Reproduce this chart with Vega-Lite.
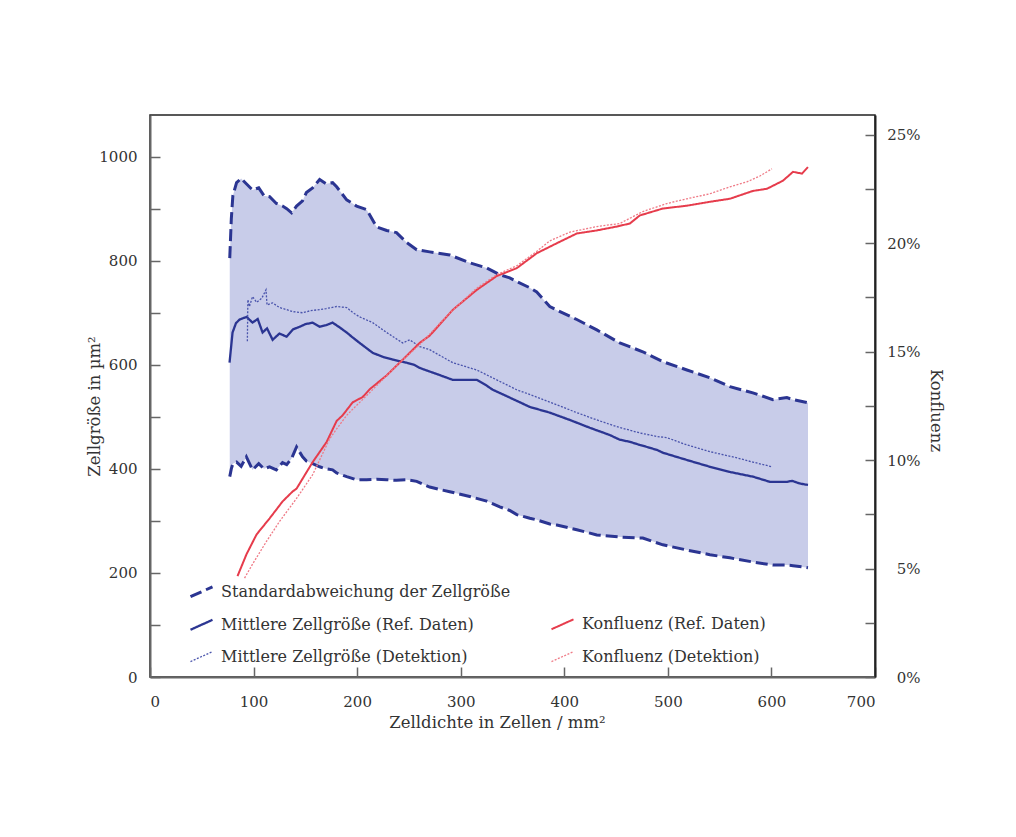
{
  "$schema": "https://vega.github.io/schema/vega-lite/v6.json",
  "width": 725,
  "height": 562,
  "autosize": {"type": "none"},
  "padding": {"left": 150, "top": 115, "right": 141, "bottom": 160},
  "background": "white",
  "datasets": {
    "std": [
      {"s": "sd", "x": 77, "lo": 385, "hi": 805},
      {"s": "sd", "x": 78.5, "lo": 400, "hi": 880},
      {"s": "sd", "x": 80, "lo": 410, "hi": 925},
      {"s": "sd", "x": 83.6, "lo": 413, "hi": 950},
      {"s": "sd", "x": 88, "lo": 405, "hi": 958},
      {"s": "sd", "x": 93, "lo": 423, "hi": 948},
      {"s": "sd", "x": 99, "lo": 398, "hi": 936},
      {"s": "sd", "x": 105, "lo": 410, "hi": 940},
      {"s": "sd", "x": 110, "lo": 400, "hi": 925},
      {"s": "sd", "x": 115.5, "lo": 404, "hi": 923},
      {"s": "sd", "x": 122, "lo": 398, "hi": 910},
      {"s": "sd", "x": 128, "lo": 412, "hi": 905},
      {"s": "sd", "x": 132, "lo": 408, "hi": 900},
      {"s": "sd", "x": 136.7, "lo": 420, "hi": 892},
      {"s": "sd", "x": 141.5, "lo": 442, "hi": 905},
      {"s": "sd", "x": 147.3, "lo": 423, "hi": 915},
      {"s": "sd", "x": 151, "lo": 415, "hi": 931},
      {"s": "sd", "x": 157, "lo": 410, "hi": 940},
      {"s": "sd", "x": 163.8, "lo": 404, "hi": 956},
      {"s": "sd", "x": 170, "lo": 400, "hi": 948},
      {"s": "sd", "x": 176.3, "lo": 398, "hi": 950},
      {"s": "sd", "x": 180.2, "lo": 392, "hi": 942},
      {"s": "sd", "x": 189.9, "lo": 385, "hi": 917},
      {"s": "sd", "x": 199.5, "lo": 379, "hi": 905},
      {"s": "sd", "x": 209.2, "lo": 379, "hi": 898},
      {"s": "sd", "x": 218.8, "lo": 380, "hi": 865},
      {"s": "sd", "x": 228.5, "lo": 379, "hi": 858},
      {"s": "sd", "x": 238, "lo": 378, "hi": 854},
      {"s": "sd", "x": 247.8, "lo": 379, "hi": 835},
      {"s": "sd", "x": 257.5, "lo": 376, "hi": 821},
      {"s": "sd", "x": 270, "lo": 365, "hi": 817},
      {"s": "sd", "x": 289.4, "lo": 356, "hi": 811},
      {"s": "sd", "x": 308.7, "lo": 347, "hi": 796},
      {"s": "sd", "x": 325.1, "lo": 338, "hi": 786},
      {"s": "sd", "x": 337.7, "lo": 327, "hi": 773},
      {"s": "sd", "x": 347.3, "lo": 320, "hi": 767},
      {"s": "sd", "x": 354.1, "lo": 312, "hi": 760},
      {"s": "sd", "x": 366.7, "lo": 305, "hi": 748},
      {"s": "sd", "x": 373.4, "lo": 302, "hi": 740},
      {"s": "sd", "x": 386, "lo": 294, "hi": 712},
      {"s": "sd", "x": 392.8, "lo": 292, "hi": 705},
      {"s": "sd", "x": 412.1, "lo": 283, "hi": 687},
      {"s": "sd", "x": 431.4, "lo": 273, "hi": 667},
      {"s": "sd", "x": 453.6, "lo": 269, "hi": 642},
      {"s": "sd", "x": 475.8, "lo": 267, "hi": 625},
      {"s": "sd", "x": 495.2, "lo": 254, "hi": 606},
      {"s": "sd", "x": 518.4, "lo": 244, "hi": 590},
      {"s": "sd", "x": 540.6, "lo": 235, "hi": 575},
      {"s": "sd", "x": 559.9, "lo": 229, "hi": 558},
      {"s": "sd", "x": 582.1, "lo": 221, "hi": 546},
      {"s": "sd", "x": 601.4, "lo": 215, "hi": 533},
      {"s": "sd", "x": 614.9, "lo": 215, "hi": 537},
      {"s": "sd", "x": 620.8, "lo": 214, "hi": 533},
      {"s": "sd", "x": 635.3, "lo": 210, "hi": 527}
    ],
    "size": [
      {"s": "mr", "x": 76.8, "v": 604},
      {"s": "mr", "x": 79.7, "v": 662},
      {"s": "mr", "x": 83, "v": 680},
      {"s": "mr", "x": 86.5, "v": 687},
      {"s": "mr", "x": 93.2, "v": 692},
      {"s": "mr", "x": 99, "v": 681},
      {"s": "mr", "x": 104, "v": 688},
      {"s": "mr", "x": 108.7, "v": 662},
      {"s": "mr", "x": 113, "v": 670},
      {"s": "mr", "x": 118.4, "v": 648},
      {"s": "mr", "x": 125, "v": 660},
      {"s": "mr", "x": 131.9, "v": 654},
      {"s": "mr", "x": 138, "v": 668},
      {"s": "mr", "x": 144.4, "v": 673},
      {"s": "mr", "x": 150, "v": 678},
      {"s": "mr", "x": 157, "v": 681},
      {"s": "mr", "x": 163.8, "v": 673},
      {"s": "mr", "x": 170, "v": 676},
      {"s": "mr", "x": 176.3, "v": 681},
      {"s": "mr", "x": 183, "v": 672},
      {"s": "mr", "x": 189.9, "v": 662},
      {"s": "mr", "x": 196, "v": 652},
      {"s": "mr", "x": 202.4, "v": 642},
      {"s": "mr", "x": 209, "v": 632},
      {"s": "mr", "x": 215, "v": 623},
      {"s": "mr", "x": 225, "v": 615},
      {"s": "mr", "x": 234.3, "v": 610},
      {"s": "mr", "x": 247.8, "v": 604},
      {"s": "mr", "x": 255, "v": 600},
      {"s": "mr", "x": 260.4, "v": 594},
      {"s": "mr", "x": 270, "v": 587},
      {"s": "mr", "x": 280, "v": 580},
      {"s": "mr", "x": 292.3, "v": 571},
      {"s": "mr", "x": 315.5, "v": 571},
      {"s": "mr", "x": 325, "v": 560},
      {"s": "mr", "x": 330.9, "v": 552},
      {"s": "mr", "x": 347.3, "v": 537},
      {"s": "mr", "x": 366.7, "v": 519},
      {"s": "mr", "x": 386, "v": 508},
      {"s": "mr", "x": 405.3, "v": 494},
      {"s": "mr", "x": 424.6, "v": 479},
      {"s": "mr", "x": 443.9, "v": 465},
      {"s": "mr", "x": 453.6, "v": 456},
      {"s": "mr", "x": 463.3, "v": 452},
      {"s": "mr", "x": 472.9, "v": 446},
      {"s": "mr", "x": 480, "v": 442},
      {"s": "mr", "x": 490, "v": 436},
      {"s": "mr", "x": 495.2, "v": 431},
      {"s": "mr", "x": 518.4, "v": 417},
      {"s": "mr", "x": 540.6, "v": 404},
      {"s": "mr", "x": 559.9, "v": 394},
      {"s": "mr", "x": 582.1, "v": 385},
      {"s": "mr", "x": 598.6, "v": 375},
      {"s": "mr", "x": 614.9, "v": 375},
      {"s": "mr", "x": 620, "v": 377},
      {"s": "mr", "x": 627, "v": 372},
      {"s": "mr", "x": 635.3, "v": 369},
      {"s": "md", "x": 94, "v": 645},
      {"s": "md", "x": 94.5, "v": 725},
      {"s": "md", "x": 96, "v": 712},
      {"s": "md", "x": 99, "v": 731},
      {"s": "md", "x": 103, "v": 720},
      {"s": "md", "x": 108, "v": 728},
      {"s": "md", "x": 112, "v": 744},
      {"s": "md", "x": 113, "v": 715},
      {"s": "md", "x": 118.4, "v": 719},
      {"s": "md", "x": 125, "v": 710},
      {"s": "md", "x": 131.9, "v": 706},
      {"s": "md", "x": 138, "v": 702},
      {"s": "md", "x": 147.3, "v": 700},
      {"s": "md", "x": 155, "v": 704},
      {"s": "md", "x": 163.8, "v": 706},
      {"s": "md", "x": 170, "v": 708},
      {"s": "md", "x": 180.2, "v": 712},
      {"s": "md", "x": 189.9, "v": 710},
      {"s": "md", "x": 196, "v": 700},
      {"s": "md", "x": 202.4, "v": 692},
      {"s": "md", "x": 215, "v": 681},
      {"s": "md", "x": 228.5, "v": 662},
      {"s": "md", "x": 244, "v": 642},
      {"s": "md", "x": 250.7, "v": 648},
      {"s": "md", "x": 260.4, "v": 635},
      {"s": "md", "x": 270, "v": 629},
      {"s": "md", "x": 292.3, "v": 604},
      {"s": "md", "x": 315.5, "v": 590},
      {"s": "md", "x": 334.8, "v": 571},
      {"s": "md", "x": 354.1, "v": 552},
      {"s": "md", "x": 373.4, "v": 538},
      {"s": "md", "x": 392.8, "v": 523},
      {"s": "md", "x": 412.1, "v": 508},
      {"s": "md", "x": 431.4, "v": 494},
      {"s": "md", "x": 450.7, "v": 481},
      {"s": "md", "x": 472.9, "v": 469},
      {"s": "md", "x": 490, "v": 462},
      {"s": "md", "x": 499, "v": 460},
      {"s": "md", "x": 518.4, "v": 446},
      {"s": "md", "x": 540.6, "v": 433},
      {"s": "md", "x": 562.8, "v": 423},
      {"s": "md", "x": 582.1, "v": 413},
      {"s": "md", "x": 600.5, "v": 404}
    ],
    "konf": [
      {"s": "kr", "x": 84.5, "v": 0.0465},
      {"s": "kr", "x": 93.2, "v": 0.0566},
      {"s": "kr", "x": 102.9, "v": 0.0657},
      {"s": "kr", "x": 115.5, "v": 0.0731},
      {"s": "kr", "x": 128, "v": 0.0809},
      {"s": "kr", "x": 137.7, "v": 0.0855},
      {"s": "kr", "x": 141.5, "v": 0.0868},
      {"s": "kr", "x": 157, "v": 0.099},
      {"s": "kr", "x": 170.5, "v": 0.1083},
      {"s": "kr", "x": 180.2, "v": 0.118},
      {"s": "kr", "x": 186, "v": 0.1206},
      {"s": "kr", "x": 195.7, "v": 0.1266},
      {"s": "kr", "x": 205.3, "v": 0.129},
      {"s": "kr", "x": 212.1, "v": 0.1326},
      {"s": "kr", "x": 228.5, "v": 0.139},
      {"s": "kr", "x": 247.8, "v": 0.148},
      {"s": "kr", "x": 260.4, "v": 0.154},
      {"s": "kr", "x": 270, "v": 0.1573},
      {"s": "kr", "x": 292.3, "v": 0.1692},
      {"s": "kr", "x": 315.5, "v": 0.1784},
      {"s": "kr", "x": 334.8, "v": 0.1848},
      {"s": "kr", "x": 354.1, "v": 0.1884},
      {"s": "kr", "x": 373.4, "v": 0.1953},
      {"s": "kr", "x": 392.8, "v": 0.1999},
      {"s": "kr", "x": 412.1, "v": 0.2044},
      {"s": "kr", "x": 431.4, "v": 0.2058},
      {"s": "kr", "x": 450.7, "v": 0.2076},
      {"s": "kr", "x": 463.3, "v": 0.209},
      {"s": "kr", "x": 472.9, "v": 0.2127},
      {"s": "kr", "x": 495.2, "v": 0.2159},
      {"s": "kr", "x": 518.4, "v": 0.2172},
      {"s": "kr", "x": 540.6, "v": 0.219},
      {"s": "kr", "x": 559.9, "v": 0.2204},
      {"s": "kr", "x": 582.1, "v": 0.224},
      {"s": "kr", "x": 595.7, "v": 0.225},
      {"s": "kr", "x": 611.1, "v": 0.2287},
      {"s": "kr", "x": 620.8, "v": 0.2328},
      {"s": "kr", "x": 629.5, "v": 0.232},
      {"s": "kr", "x": 635.3, "v": 0.235},
      {"s": "kd", "x": 91.3, "v": 0.0456},
      {"s": "kd", "x": 99, "v": 0.052},
      {"s": "kd", "x": 112.6, "v": 0.0626},
      {"s": "kd", "x": 125.1, "v": 0.0717},
      {"s": "kd", "x": 141.5, "v": 0.0823},
      {"s": "kd", "x": 157, "v": 0.0932},
      {"s": "kd", "x": 173.4, "v": 0.1097},
      {"s": "kd", "x": 180.2, "v": 0.1143},
      {"s": "kd", "x": 189.9, "v": 0.1206},
      {"s": "kd", "x": 195.7, "v": 0.1234},
      {"s": "kd", "x": 212, "v": 0.131},
      {"s": "kd", "x": 241.1, "v": 0.1449},
      {"s": "kd", "x": 260, "v": 0.153},
      {"s": "kd", "x": 290, "v": 0.168},
      {"s": "kd", "x": 315, "v": 0.179},
      {"s": "kd", "x": 335, "v": 0.1855},
      {"s": "kd", "x": 354, "v": 0.1895},
      {"s": "kd", "x": 373, "v": 0.196},
      {"s": "kd", "x": 386, "v": 0.201},
      {"s": "kd", "x": 405.3, "v": 0.205},
      {"s": "kd", "x": 431.4, "v": 0.2076},
      {"s": "kd", "x": 453.6, "v": 0.209},
      {"s": "kd", "x": 475.8, "v": 0.2145},
      {"s": "kd", "x": 499, "v": 0.2182},
      {"s": "kd", "x": 518.4, "v": 0.2204},
      {"s": "kd", "x": 540.6, "v": 0.2227},
      {"s": "kd", "x": 559.9, "v": 0.2259},
      {"s": "kd", "x": 576.3, "v": 0.2282},
      {"s": "kd", "x": 588.9, "v": 0.2309},
      {"s": "kd", "x": 600.5, "v": 0.2342}
    ]
  },
  "layer": [
    {
      "layer": [
        {
          "data": {"name": "std"},
          "mark": {"type": "area", "color": "#c8cce9", "opacity": 1},
          "encoding": {
            "x": {"field": "x", "type": "quantitative", "scale": {"domain": [0, 700], "nice": false}, "title": "Zelldichte in Zellen / mm²",
                  "axis": {"values": [0, 100, 200, 300, 400, 500, 600, 700], "labelPadding": 27, "titlePadding": 5, "titleX": 347}},
            "y": {"field": "lo", "type": "quantitative", "scale": {"domain": [0, 1080], "nice": false}, "title": "Zellgröße in µm²",
                  "axis": {"values": [0, 100, 200, 300, 400, 500, 600, 700, 800, 900, 1000], "format": "d",
                           "labelExpr": "datum.value % 200 == 0 ? datum.label : ''", "labelPadding": 23, "titleX": -48, "titleY": 291}},
            "y2": {"field": "hi"}
          }
        },
        {
          "data": {"name": "std"},
          "transform": [{"fold": ["lo", "hi"], "as": ["part", "val"]}],
          "mark": {"type": "line"},
          "encoding": {
            "x": {"field": "x", "type": "quantitative", "title": "Zelldichte in Zellen / mm²"},
            "y": {"field": "val", "type": "quantitative", "title": "Zellgröße in µm²"},
            "detail": {"field": "part"},
            "color": {"field": "s", "type": "nominal",
                      "scale": {"domain": ["sd", "mr", "md", "nn", "kr", "kd"], "range": ["#2b3592", "#2b3592", "#4a54ac", "rgba(0,0,0,0)", "#e63c4c", "#ef7a86"]},
                      "legend": {"orient": "none", "legendX": 39, "legendY": 464, "columns": 2, "title": null, "labelLimit": 400,
                                 "labelExpr": "datum.value == 'sd' ? 'Standardabweichung der Zellgröße' : datum.value == 'mr' ? 'Mittlere Zellgröße (Ref. Daten)' : datum.value == 'md' ? 'Mittlere Zellgröße (Detektion)' : datum.value == 'kr' ? 'Konfluenz (Ref. Daten)' : datum.value == 'kd' ? 'Konfluenz (Detektion)' : ''"}},
            "strokeDash": {"field": "s", "type": "nominal",
                           "scale": {"domain": ["sd", "mr", "md", "nn", "kr", "kd"], "range": [[12, 5], [1, 0], [2, 1.5], [1, 0], [1, 0], [2, 1.5]]}},
            "strokeWidth": {"field": "s", "type": "nominal",
                            "scale": {"type": "ordinal", "domain": ["sd", "mr", "md", "nn", "kr", "kd"], "range": [3, 2.3, 1.3, 0, 2, 1.3]}}
          }
        },
        {
          "data": {"name": "size"},
          "mark": {"type": "line"},
          "encoding": {
            "x": {"field": "x", "type": "quantitative", "title": "Zelldichte in Zellen / mm²"},
            "y": {"field": "v", "type": "quantitative", "title": "Zellgröße in µm²"},
            "color": {"field": "s", "type": "nominal",
                      "scale": {"domain": ["sd", "mr", "md", "nn", "kr", "kd"], "range": ["#2b3592", "#2b3592", "#4a54ac", "rgba(0,0,0,0)", "#e63c4c", "#ef7a86"]}},
            "strokeDash": {"field": "s", "type": "nominal",
                           "scale": {"domain": ["sd", "mr", "md", "nn", "kr", "kd"], "range": [[12, 5], [1, 0], [2, 1.5], [1, 0], [1, 0], [2, 1.5]]}},
            "strokeWidth": {"field": "s", "type": "nominal",
                            "scale": {"type": "ordinal", "domain": ["sd", "mr", "md", "nn", "kr", "kd"], "range": [3, 2.3, 1.3, 0, 2, 1.3]}}
          }
        }
      ]
    },
    {
      "data": {"name": "konf"},
      "mark": {"type": "line"},
      "encoding": {
        "x": {"field": "x", "type": "quantitative", "title": "Zelldichte in Zellen / mm²"},
        "y": {"field": "v", "type": "quantitative", "scale": {"domain": [0, 0.259], "nice": false}, "title": "Konfluenz",
              "axis": {"orient": "right", "values": [0, 0.025, 0.05, 0.075, 0.1, 0.125, 0.15, 0.175, 0.2, 0.225, 0.25], "format": ".0%",
                       "labelExpr": "round(datum.value * 1000) % 50 == 0 ? datum.label : ''", "labelAlign": "right", "labelPadding": 55,
                       "domainColor": "#222", "titlePadding": 7, "titleY": 295}},
        "color": {"field": "s", "type": "nominal",
                  "scale": {"domain": ["sd", "mr", "md", "nn", "kr", "kd"], "range": ["#2b3592", "#2b3592", "#4a54ac", "rgba(0,0,0,0)", "#e63c4c", "#ef7a86"]}},
        "strokeDash": {"field": "s", "type": "nominal",
                       "scale": {"domain": ["sd", "mr", "md", "nn", "kr", "kd"], "range": [[12, 5], [1, 0], [2, 1.5], [1, 0], [1, 0], [2, 1.5]]}},
        "strokeWidth": {"field": "s", "type": "nominal",
                        "scale": {"type": "ordinal", "domain": ["sd", "mr", "md", "nn", "kr", "kd"], "range": [3, 2.3, 1.3, 0, 2, 1.3]}}
      }
    }
  ],
  "resolve": {"scale": {"y": "independent"}, "axis": {"y": "independent"}},
  "config": {
    "font": "DejaVu Serif",
    "view": {"stroke": "#222", "strokeWidth": 1.5},
    "axis": {
      "grid": false, "domainColor": "#666", "domainWidth": 2, "tickColor": "#666", "tickWidth": 1.5, "tickSize": -10,
      "labelFont": "DejaVu Serif", "labelFontSize": 15, "labelColor": "#333",
      "titleFont": "DejaVu Serif", "titleFontSize": 16.5, "titleFontWeight": "normal", "titleColor": "#333"
    },
    "legend": {
      "labelFont": "DejaVu Serif", "labelFontSize": 16, "labelColor": "#333", "labelOffset": 7,
      "symbolType": "M-1,0.45L1,-0.45", "symbolSize": 484, "rowPadding": 9.3, "columnPadding": 36
    }
  }
}
